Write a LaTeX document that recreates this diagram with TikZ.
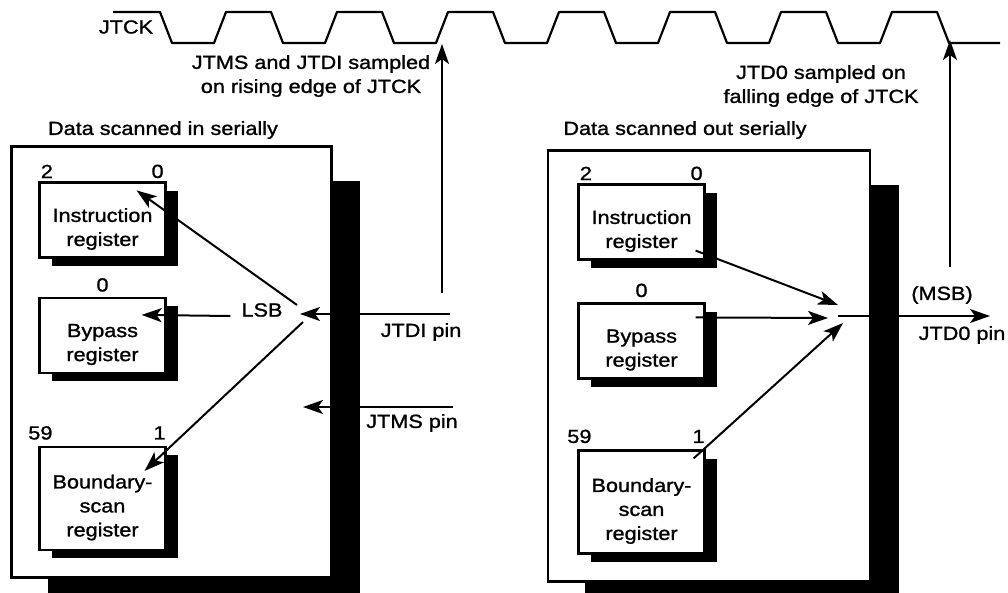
\documentclass[tikz,border=0pt]{standalone}
\usepackage{fontspec}
\setmainfont{Liberation Sans}[FakeStretch=1.14, FakeBold=1.2]
\usetikzlibrary{arrows.meta, positioning, calc, backgrounds, shadows}

\begin{document}
\begin{tikzpicture}[
    x=1pt, y=-1pt,
    every node/.style={font=\fontsize{19}{24}\selectfont, inner sep=0pt},
    chip/.style={draw, line width=2.2pt, fill=white, minimum width=320pt, minimum height=431pt},
    reg/.style={draw, line width=2.2pt, fill=white, minimum width=126pt, minimum height=75pt,
      drop shadow={shadow xshift=12pt, shadow yshift=-8pt, fill=black, opacity=1}},
    regtxt/.style={align=center},
    sig/.style={line width=2pt, -{Stealth[length=20pt, width=14pt, inset=5pt]}},
    wave/.style={line width=2.2pt, line join=round},
  ]
  \useasboundingbox (0,0) rectangle (1008,592);

  % clock
  \node (jtck) at (126,27) {JTCK};
  \draw[wave] (113,12) -- (160,12)
    -- ++(12,31) -- ++(42,0) -- ++(12,-31) -- ++(45,0)
    -- ++(12,31) -- ++(42,0) -- ++(12,-31) -- ++(45,0)
    -- ++(12,31) -- ++(42,0) -- ++(12,-31) -- ++(45,0)
    -- ++(12,31) -- ++(42,0) -- ++(12,-31) -- ++(45,0)
    -- ++(12,31) -- ++(42,0) -- ++(12,-31) -- ++(45,0)
    -- ++(12,31) -- ++(42,0) -- ++(12,-31) -- ++(45,0)
    -- ++(12,31) -- ++(42,0) -- ++(12,-31) -- ++(45,0)
    -- ++(12,31) -- (1000,43);
  \node[align=center] (smpIn) at (311,76) {JTMS and JTDI sampled\\on rising edge of JTCK};
  \node[align=center] (smpOut) at (821,86) {JTD0 sampled on\\falling edge of JTCK};

  % scan in
  \node (ttlIn) at (163,130) {Data scanned in serially};
  \node[chip] (chipIn) at (171.5,362) {};
  \begin{scope}[on background layer]
    \fill ($(chipIn.north west)+(38,36)$) rectangle ($(chipIn.south east)+(27,15)$);
  \end{scope}
  \node[reg] (ir1) at (102.5,220) {};
  \node[regtxt] (ir1t) at ($(ir1)+(0,9)$) {Instruction\\register};
  \node[reg] (byp1) at (102.5,335.5) {};
  \node[regtxt] (byp1t) at ($(byp1)+(0,9)$) {Bypass\\register};
  \node[reg, minimum height=103pt] (bsr1) at (102.5,498.5) {};
  \node[regtxt] (bsr1t) at ($(bsr1)+(0,9)$) {Boundary-\\scan\\register};
  \node (ir1hi) at ($(ir1.north west)+(8.5,-10)$) {2};
  \node (ir1lo) at ($(ir1.north east)+(-9,-10)$) {0};
  \node (byp1lo) at ($(byp1.north)+(0,-12)$) {0};
  \node (bsr1hi) at ($(bsr1.north west)+(2,-13)$) {59};
  \node (bsr1lo) at ($(bsr1.north east)+(-7,-13)$) {1};
  \node (lsb) at (262,310) {LSB};

  \coordinate (fanIn) at (300,314);
  \coordinate (tdi) at (450,314);
  \coordinate (tms) at (453,407);
  \coordinate (tmsEnd) at (303,407);
  \coordinate (riseFoot) at (442,293);
  \coordinate (riseTip) at (442,44);
  \node (tdiLbl) at (421,332) {JTDI pin};
  \node (tmsLbl) at (412,423) {JTMS pin};
  \draw[sig] (tdi) -- (fanIn);
  \draw[sig] (tms) -- (tmsEnd);
  \draw[sig] (riseFoot) -- (riseTip);
  \draw[sig] ($(fanIn)+(-3,-9)$) -- ($(ir1.north east)+(-30,9)$);
  \draw[sig] ($(lsb.west)+(-11,6)$) -- ($(byp1.north east)+(-25,18)$);
  \draw[sig] ($(fanIn)+(3,8)$) -- ($(bsr1.north east)+(-22,25)$);

  % scan out
  \node (ttlOut) at (685,130) {Data scanned out serially};
  \node[chip, minimum width=322pt] (chipOut) at (709,366) {};
  \begin{scope}[on background layer]
    \fill ($(chipOut.north west)+(38,36)$) rectangle ($(chipOut.south east)+(28,11)$);
  \end{scope}
  \node[reg] (ir2) at (641.5,222) {};
  \node[regtxt] (ir2t) at ($(ir2)+(0,9)$) {Instruction\\register};
  \node[reg] (byp2) at (641.5,341) {};
  \node[regtxt] (byp2t) at ($(byp2)+(0,9)$) {Bypass\\register};
  \node[reg, minimum height=103pt] (bsr2) at (641.5,502) {};
  \node[regtxt] (bsr2t) at ($(bsr2)+(0,9)$) {Boundary-\\scan\\register};
  \node (ir2hi) at ($(ir2.north west)+(8.5,-10)$) {2};
  \node (ir2lo) at ($(ir2.north east)+(-9,-10)$) {0};
  \node (byp2lo) at ($(byp2.north)+(0,-12)$) {0};
  \node (bsr2hi) at ($(bsr2.north west)+(2,-13)$) {59};
  \node (bsr2lo) at ($(bsr2.north east)+(-7,-13)$) {1};

  \coordinate (fanOut) at (838,316);
  \coordinate (tdo) at (990,316);
  \coordinate (fallFoot) at (950,267);
  \coordinate (fallTip) at (950,40);
  \node (msb) at (942,295) {(MSB)};
  \node (tdoLbl) at (962,335) {JTD0 pin};
  \draw[sig] ($(ir2.south east)+(-10,-10)$) -- ($(fanOut)+(0,-11)$);
  \draw[sig] ($(byp2.north east)+(-10,15)$) -- ($(fanOut)+(-10,2)$);
  \draw[sig] ($(bsr2.north east)+(-12,9)$) -- ($(fanOut)+(5,7)$);
  \draw[sig] (fanOut) -- (tdo);
  \draw[sig] (fallFoot) -- (fallTip);
\end{tikzpicture}
\end{document}
